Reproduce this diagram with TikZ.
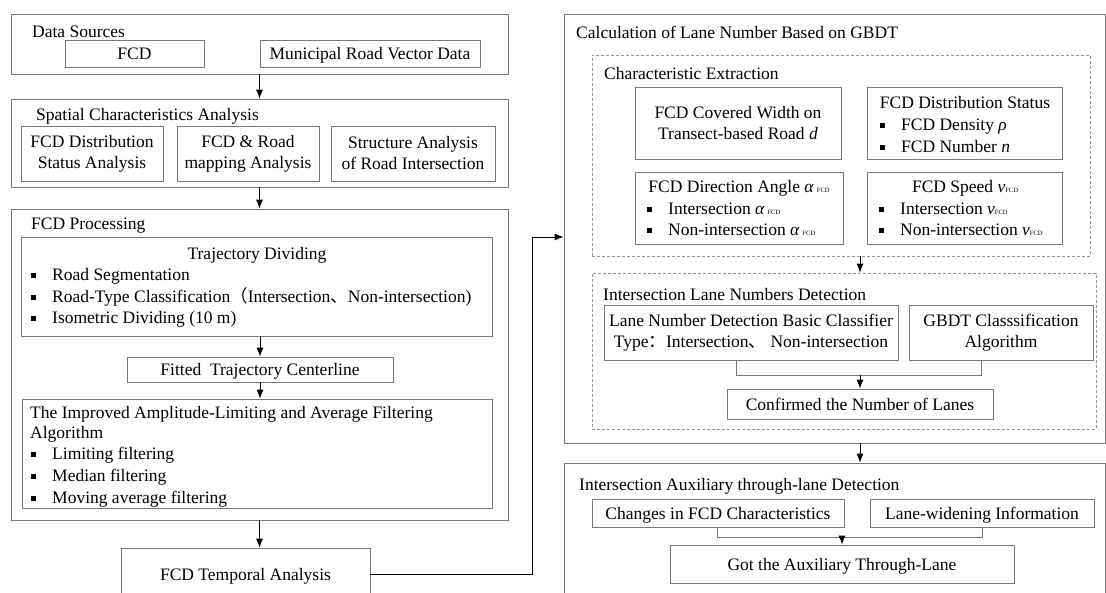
\documentclass[tikz,border=0pt]{standalone}
\usepackage{fontspec}
\setmainfont{Liberation Serif}
\newfontfamily\cjk{Noto Sans CJK SC}
\usetikzlibrary{arrows.meta,fit}
\definecolor{boxc}{RGB}{120,120,120}
\definecolor{dashc}{RGB}{150,150,150}
\newcommand{\fsz}{\fontsize{17.5}{21}\selectfont}
\newcommand{\bul}{\rule[0.1em]{0.3em}{0.3em}}
\newcommand{\bitem}[1]{\makebox[21pt][l]{\bul}#1}
\newcommand{\sfcd}{{\fontsize{6.5}{6.5}\selectfont FCD}}
% \rbox[style]{x1}{y1}{x2}{y2}{name} {text};
\newcommand{\rbox}[6][box]{\node[#1, minimum width={(#4)-(#2)}, minimum height={(#5)-(#3)}] (#6) at ({((#2)+(#4))/2},{((#3)+(#5))/2})}
\begin{document}
\begin{tikzpicture}[x=1pt,y=-1pt,
  every node/.style={font=\fsz},
  box/.style={draw=boxc, line width=0.8pt, inner sep=0pt, text height=13pt, text depth=1pt},
  mbox/.style={draw=boxc, line width=0.8pt, inner sep=0pt, align=center},
  frame/.style={draw=boxc, line width=0.8pt, inner sep=0pt},
  dbox/.style={draw=dashc, line width=0.7pt, dash pattern=on 3pt off 2pt, inner sep=0pt},
  txt/.style={inner sep=0pt, anchor=west, text height=13pt, text depth=1pt},
  ctr/.style={inner sep=0pt, text height=13pt, text depth=1pt},
  arr/.style={draw=black, line width=0.8pt, -{Latex[length=9pt,width=7pt]}},
  ln/.style={draw=boxc, line width=0.8pt}]
\useasboundingbox (0,0) rectangle (1106,592);
\clip (0,0) rectangle (1106,592);

% ---------------- left column ----------------
\node[frame, fit={(11,14)(508,74)}] (ds) {};
\node[txt] (dst) at (32,31) {Data Sources};
\rbox{65}{40}{204}{67}{fcd} {FCD};
\rbox{260}{40}{480}{67}{mrv} {Municipal Road Vector Data};

\node[frame, fit={(11,99)(508,187)}] (sp) {};
\node[txt] (spt) at (36,114) {Spatial Characteristics Analysis};
\rbox[mbox]{21}{126}{163}{181}{sp1} {FCD Distribution\\Status Analysis};
\rbox[mbox]{177}{126}{319}{181}{sp2} {FCD \& Road\\mapping Analysis};
\rbox[mbox]{331}{126}{495}{181}{sp3} {Structure Analysis\\of Road Intersection};

\node[frame, fit={(11,209)(508,520)}] (fp) {};
\node[txt] (fpt) at (31,223) {FCD Processing};
\node[frame, fit={(21,237)(492,336)}] (td) {};
\node[ctr] (tdt) at (257,253) {Trajectory Dividing};
\node[txt] (td1) at (31,274) {\bitem{Road Segmentation}};
\node[txt] (td2) at (31,296) {\bitem{Road-Type Classification{\cjk （}Intersection{\cjk 、}Non-intersection)}};
\node[txt] (td3) at (31,317) {\bitem{Isometric Dividing (10 m)}};

\rbox{127}{357}{393}{382}{ftc} {Fitted\ \ Trajectory Centerline};

\node[frame, fit={(22,399)(492,508)}] (ia) {};
\node[txt] (ia0) at (30,412) {The Improved Amplitude-Limiting and Average Filtering};
\node[txt] (ia1) at (30,432) {Algorithm};
\node[txt] (ia2) at (31,453) {\bitem{Limiting filtering}};
\node[txt] (ia3) at (31,475) {\bitem{Median filtering}};
\node[txt] (ia4) at (31,497) {\bitem{Moving average filtering}};

\rbox{121}{548}{370}{600}{fta} {FCD Temporal Analysis};

\draw[arr] (ds.south) -- (sp.north);
\draw[arr] (sp.south) -- (fp.north);
\draw[arr] (ftc.north |- td.south) -- (ftc.north);
\draw[arr] (ftc.south) -- (ftc.south |- ia.north);
\draw[arr] (fp.south) -- (fp.south |- fta.north);

% ---------------- right column ----------------
\node[frame, fit={(564,14)(1105,443)}] (calc) {};
\node[txt] (calct) at (576,32) {Calculation of Lane Number Based on GBDT};

\node[dbox, fit={(592,55)(1090,256)}] (ce) {};
\node[txt] (cet) at (604,73) {Characteristic Extraction};
\rbox[mbox]{635}{87}{841}{159}{cw} {FCD Covered Width on\\Transect-based Road \textit{d}};

\node[frame, fit={(867,87)(1062,159)}] (dst2) {};
\node[ctr] (dst2t) at (965,102) {FCD Distribution Status};
\node[txt] (dst21) at (880,124) {\bitem{FCD Density \textit{ρ}}};
\node[txt] (dst22) at (880,146) {\bitem{FCD Number \textit{n}}};

\node[frame, fit={(635,172)(843,244)}] (da) {};
\node[ctr] (dat) at (739,186) {FCD Direction Angle \textit{α}\,\sfcd};
\node[txt] (da1) at (647,208) {\bitem{Intersection \textit{α}\,\sfcd}};
\node[txt] (da2) at (647,229) {\bitem{Non-intersection \textit{α}\,\sfcd}};

\node[frame, fit={(867,172)(1062,244)}] (sv) {};
\node[ctr] (svt) at (965,186) {FCD Speed \textit{v}\sfcd};
\node[txt] (sv1) at (879,208) {\bitem{Intersection \textit{v}\sfcd}};
\node[txt] (sv2) at (879,229) {\bitem{Non-intersection \textit{v}\sfcd}};

\node[dbox, fit={(592,273)(1096,429)}] (iln) {};
\node[txt] (ilnt) at (603,294) {Intersection Lane Numbers Detection};
\rbox[mbox]{604}{305}{898}{360}{lnd} {Lane Number Detection Basic Classifier\\Type{\cjk ：}Intersection{\cjk 、} Non-intersection};
\rbox[mbox]{909}{305}{1093}{360}{gb} {GBDT Classsification\\Algorithm};
\rbox{727}{389}{993}{419}{cn} {Confirmed the Number of Lanes};
\coordinate (j1) at (736,375);
\coordinate (j2) at (981,375);
\draw[ln] (lnd.south -| j1) -- (j1) -- (j2) -- (gb.south -| j2);
\draw[arr] (cn.north |- j1) -- (cn.north);
\draw[arr] (ce.south -| cn.north) -- (iln.north -| cn.north);

\node[frame, fit={(564,463)(1105,620)}] (aux) {};
\node[txt] (auxt) at (579,484) {Intersection Auxiliary through-lane Detection};
\rbox{592}{499}{844}{527}{chg} {Changes in FCD Characteristics};
\rbox{870}{499}{1094}{527}{lwi} {Lane-widening Information};
\rbox{670}{545}{1014}{583}{got} {Got the Auxiliary Through-Lane};
\coordinate (k1) at (717,537);
\coordinate (k2) at (982,537);
\draw[ln] (chg.south -| k1) -- (k1) -- (k2) -- (lwi.south -| k2);
\draw[arr] (got.north |- k1) -- (got.north);
\draw[arr] (calc.south -| cn.north) -- (aux.north -| cn.north);

% ---------------- cross connector ----------------
\coordinate (c1) at (532,237);
\draw[arr] (fta.east) -| (c1) -- (c1 -| calc.west);
\end{tikzpicture}
\end{document}
